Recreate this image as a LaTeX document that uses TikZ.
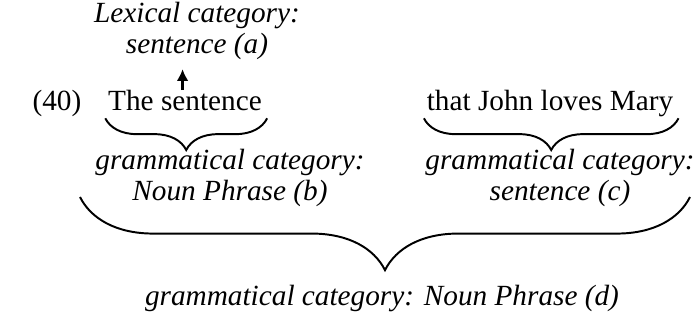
\documentclass[tikz,border=0pt]{standalone}
\usepackage{fontspec}
\setmainfont{Liberation Serif}
\usetikzlibrary{decorations.pathreplacing,arrows.meta}
\begin{document}
\begin{tikzpicture}[x=0.41pt,y=-0.41pt,
    word/.style={anchor=base,inner sep=0pt,font=\fontsize{12}{13}\selectfont},
    cat/.style={align=center,inner sep=0pt,font=\fontsize{12}{13}\selectfont\itshape},
    brc/.style={decorate,decoration={brace,mirror,amplitude=#1},line width=0.8pt}]
    \useasboundingbox (0,0) rectangle (695,324);
    % the example sentence
    \node[word] (ex) at (57,111) {(40)};
    \node[word] (np) at (185,111) {The sentence};
    \node[word] (cl) at (550,111) {that John loves Mary};
    % categories
    \node[cat] (lex) at (197,31) {Lexical category:\\sentence (a)};
    \node[cat] (gb) at (230,178) {grammatical category:\\Noun Phrase (b)};
    \node[cat] (gc) at (560,178) {grammatical category:\\sentence (c)};
    \node[cat, anchor=base] (gd) at (382,306) {grammatical category: Noun Phrase (d)};
    \coordinate (bl) at (80,197);
    \coordinate (br) at (690,197);
    \draw[-{Latex[length=4.8pt,width=4.8pt]}, line width=0.9pt] ([xshift=-1pt]np.north) -- ([xshift=-1pt,yshift=-3.5pt]np.north |- lex.south);
    \draw[brc=13pt] ([xshift=-1pt,yshift=-3pt]np.base west) -- ([xshift=2pt,yshift=-3pt]np.base east);
    \draw[brc=13pt] ([xshift=-1pt,yshift=-3pt]cl.base west) -- ([xshift=2pt,yshift=-3pt]cl.base east);
    \draw[brc=30pt] (bl) -- (br);
\end{tikzpicture}
\end{document}
